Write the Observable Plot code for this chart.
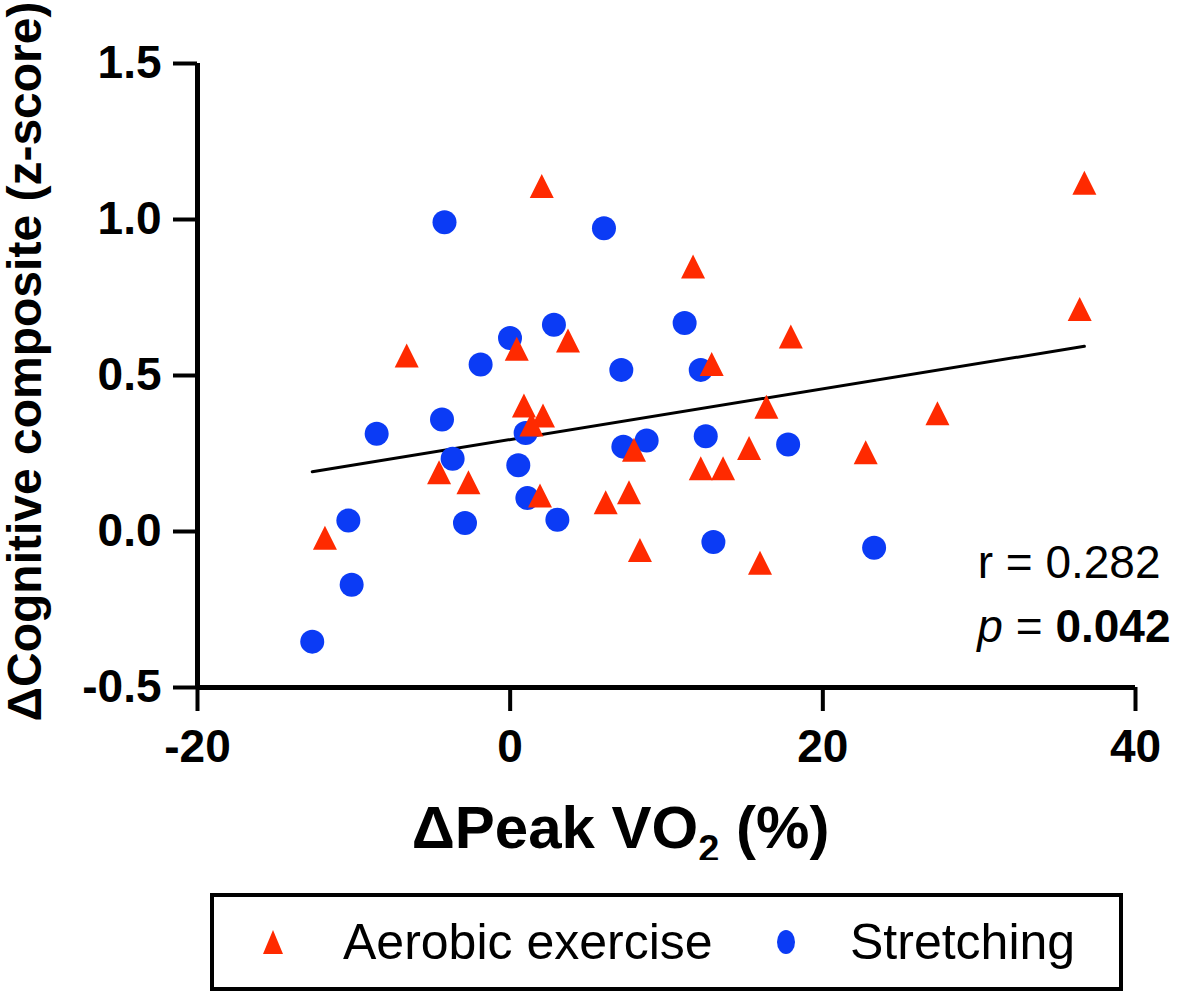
<!DOCTYPE html>
<html>
<head>
<meta charset="utf-8">
<script src="https://cdn.jsdelivr.net/npm/d3@7"></script>
<script src="https://cdn.jsdelivr.net/npm/@observablehq/plot@0.6"></script>
<style>
  body { margin: 0; background: #fff; font-family: "Liberation Sans", Arial, Helvetica, sans-serif; }
  #wrap { position: relative; width: 1200px; height: 1002px; }
  #wrap svg.plot { display: block; }
  #legend { position: absolute; left: 210px; top: 893px; width: 905px; height: 90px; border: 4px solid #000; background: #fff; }
  #legend .item { position: absolute; top: 0; height: 90px; display: flex; align-items: center; font-size: 50px; color: #000; }
  #legend svg { display: block; }
</style>
</head>
<body>
<div id="wrap">
  <div id="chart"></div>
  <div id="legend"></div>
</div>
<script>
// ---- data ----
const groups = ["Aerobic exercise", "Stretching"];
const groupColors = ["#FF2A00", "#0B3BF5"];

const aerobicX = [2.02, 36.73, 11.7, 36.43, -6.62, 0.42, 3.7, 12.89, 17.95, 0.88, 2.1, 1.36, 16.39, 27.33,
                  -4.55, -2.67, 7.92, 1.91, 6.11, 7.6, 8.3, 12.19, 13.62, 15.28, 22.74, 15.98, -11.85];
const aerobicY = [1.107, 1.118, 0.849, 0.713, 0.564, 0.586, 0.612, 0.537, 0.625, 0.404, 0.372, 0.343, 0.40, 0.379,
                  0.19, 0.158, 0.262, 0.115, 0.094, 0.126, -0.059, 0.203, 0.203, 0.268, 0.254, -0.10, -0.02];

const stretchX = [-4.2, 6.0, -0.01, 2.8, -1.89, 7.11, 11.16, 12.19, -8.54, -4.36, -3.68, 0.99, 0.52, 1.1,
                  3.02, -2.89, -10.35, -10.14, -12.66, 7.24, 8.73, 12.51, 17.78, 13.0, 23.28];
const stretchY = [0.991, 0.972, 0.62, 0.663, 0.535, 0.518, 0.668, 0.518, 0.313, 0.359, 0.233, 0.316, 0.212, 0.107,
                  0.038, 0.027, 0.035, -0.171, -0.353, 0.272, 0.292, 0.305, 0.279, -0.034, -0.052];

const xTicks = [-20, 0, 20, 40];
const yTicks = [-0.5, 0, 0.5, 1.0, 1.5];
const xTitle = "ΔPeak VO2 (%)";
const yTitle = "ΔCognitive composite (z-score)";
const rText = "r = 0.282";
const pValue = "0.042";

// ---- build tables ----
const aerobic = aerobicX.map((x, i) => ({x, y: aerobicY[i], group: groups[0]}));
const stretching = stretchX.map((x, i) => ({x, y: stretchY[i], group: groups[1]}));
const all = stretching.concat(aerobic);

// tall isosceles triangle symbol (width = height)
const triangleSymbol = {
  draw(context, size) {
    const s = Math.sqrt(size / Math.PI);
    context.moveTo(0, -s);
    context.lineTo(s, s);
    context.lineTo(-s, s);
    context.closePath();
  }
};

const font = "'Liberation Sans', Arial, Helvetica, sans-serif";

const plot = Plot.plot({
  width: 1200,
  height: 860,
  marginLeft: 197,
  marginRight: 65,
  marginTop: 63,
  marginBottom: 173,
  x: {domain: [-20, 40]},
  y: {domain: [-0.5, 1.5]},
  style: {fontFamily: font, background: "#fff", color: "#000"},
  marks: [
    Plot.axisX({ticks: xTicks, tickSize: 24, tickPadding: 18, strokeWidth: 4, tickFormat: d => String(d),
                fontSize: 46, fontWeight: "bold", label: null}),
    Plot.axisY({ticks: yTicks, tickSize: 24, tickPadding: 12, strokeWidth: 4, tickFormat: d => d.toFixed(1),
                fontSize: 46, fontWeight: "bold", label: null}),
    Plot.ruleX([-20], {strokeWidth: 5, stroke: "#000"}),
    Plot.ruleY([-0.5], {strokeWidth: 5, stroke: "#000"}),
    Plot.linearRegressionY(all, {x: "x", y: "y", ci: 0, stroke: "#000", strokeWidth: 3}),
    Plot.dot(stretching, {x: "x", y: "y", r: 12, fill: groupColors[1], symbol: "circle"}),
    Plot.dot(aerobic, {x: "x", y: "y", r: 12, fill: groupColors[0], symbol: triangleSymbol}),
    Plot.text([xTitle], {text: d => d, frameAnchor: "bottom", dx: -46, dy: 141, fontSize: 60, fontWeight: "bold",
                         textAnchor: "middle", lineAnchor: "middle", className: "xtitle"}),
    Plot.text([yTitle], {text: d => d, frameAnchor: "left", dx: -172, dy: -14, rotate: -90, fontSize: 48,
                         fontWeight: "bold", textAnchor: "middle", lineAnchor: "middle"}),
    Plot.text([rText], {text: d => d, frameAnchor: "bottom-right", dx: 25, dy: -124, textAnchor: "end",
                        lineAnchor: "middle", fontSize: 46}),
    Plot.text(["p = " + pValue], {text: d => d, frameAnchor: "bottom-right", dx: 35, dy: -60, textAnchor: "end",
                        lineAnchor: "middle", fontSize: 46, className: "ptext"})
  ]
});
document.getElementById("chart").appendChild(plot);

// subscript in x title
const xt = plot.querySelector(".xtitle text");
if (xt) {
  xt.textContent = "";
  const parts = [["ΔPeak VO", null], ["2", "sub"], [" (%)", "after"]];
  for (const [t, kind] of parts) {
    const ts = document.createElementNS("http://www.w3.org/2000/svg", "tspan");
    ts.textContent = t;
    if (kind === "sub") { ts.setAttribute("font-size", "38"); ts.setAttribute("dy", "14"); }
    else if (kind === "after") { ts.setAttribute("dy", "-14"); }
    xt.appendChild(ts);
  }
}
// italic p, bold value
const pt = plot.querySelector(".ptext text");
if (pt) {
  pt.textContent = "";
  const parts = [["p", "italic"], [" = ", null], [pValue, "bold"]];
  for (const [t, kind] of parts) {
    const ts = document.createElementNS("http://www.w3.org/2000/svg", "tspan");
    ts.textContent = t;
    if (kind === "italic") ts.setAttribute("font-style", "italic");
    if (kind === "bold") ts.setAttribute("font-weight", "bold");
    pt.appendChild(ts);
  }
}

// legend (HTML, below the SVG)
const legend = document.getElementById("legend");
const legendLeft = [48, 562];
const textLeft = [129, 636];
groups.forEach((g, i) => {
  const sym = document.createElement("div");
  sym.className = "item";
  sym.style.left = legendLeft[i] + "px";
  sym.innerHTML = i === 0
    ? `<svg width="22" height="26"><polygon points="11,1 21,25 1,25" fill="${groupColors[0]}"/></svg>`
    : `<svg width="20" height="26"><ellipse cx="10" cy="13" rx="9" ry="12" fill="${groupColors[1]}"/></svg>`;
  legend.appendChild(sym);
  const lab = document.createElement("div");
  lab.className = "item";
  lab.style.left = textLeft[i] + "px";
  lab.textContent = g;
  legend.appendChild(lab);
});
</script>
</body>
</html>
